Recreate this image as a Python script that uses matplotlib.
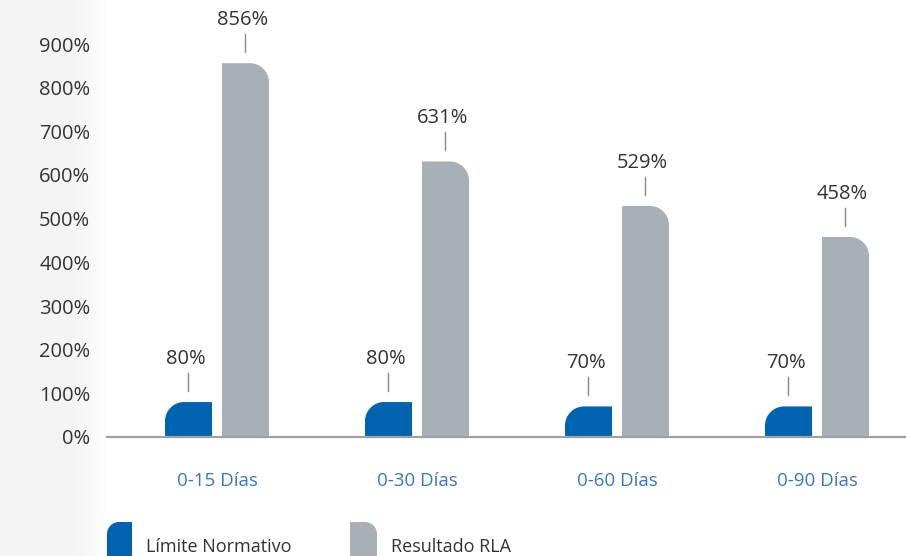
import numpy as np
import matplotlib
matplotlib.use("Agg")
import matplotlib.pyplot as plt
from matplotlib.path import Path
from matplotlib.patches import PathPatch

plt.rcParams['font.family'] = ['Open Sans', 'DejaVu Sans']

categories = ['0-15 Días', '0-30 Días', '0-60 Días', '0-90 Días']
limite = [80, 80, 70, 70]
resultado = [856, 631, 529, 458]
y_ticks = [0, 100, 200, 300, 400, 500, 600, 700, 800, 900]
series_names = ['Límite Normativo', 'Resultado RLA']

BLUE = '#0063AF'
GRAY = '#A9B0B5'
TXT = '#333333'
CAT = '#3A78BE'

W, H = 908, 556
fig = plt.figure(figsize=(W / 100, H / 100), dpi=100)

# light gray band on the left edge
bg = fig.add_axes([0, 0, 1, 1], zorder=-5)
grad = np.ones((2, 200, 3))
fade = np.clip((np.linspace(0, 200, 200) - 70) / 40, 0, 1)
shade = 0.958 + 0.042 * fade
for c in range(3):
    grad[:, :, c] = shade
bg.imshow(grad, extent=[0, 200, 0, H], aspect='auto')
bg.set_xlim(0, W)
bg.set_ylim(0, H)
bg.axis('off')

K = 0.5523


def one_round_bar(x0, y0, w, h, rx, ry, corner):
    # bar with a single rounded top corner; h may be negative (inverted axes)
    ry = min(ry, abs(h)) * np.sign(h)
    top = y0 + h
    if corner == 'left':
        verts = [(x0, y0), (x0 + w, y0), (x0 + w, top), (x0 + rx, top),
                 (x0 + rx - K * rx, top), (x0, top - ry + K * ry), (x0, top - ry),
                 (x0, y0), (x0, y0)]
        codes = [Path.MOVETO, Path.LINETO, Path.LINETO, Path.LINETO,
                 Path.CURVE4, Path.CURVE4, Path.CURVE4, Path.LINETO, Path.CLOSEPOLY]
    else:
        verts = [(x0, y0), (x0 + w, y0), (x0 + w, top - ry),
                 (x0 + w, top - ry + K * ry), (x0 + w - rx + K * rx, top), (x0 + w - rx, top),
                 (x0, top), (x0, y0), (x0, y0)]
        codes = [Path.MOVETO, Path.LINETO, Path.LINETO,
                 Path.CURVE4, Path.CURVE4, Path.CURVE4, Path.LINETO, Path.LINETO, Path.CLOSEPOLY]
    return Path(verts, codes)


left_px, right_px, bot_px, top_px = 107, 905, 437, 44
ax = fig.add_axes([left_px / W, (H - bot_px) / H, (right_px - left_px) / W, (bot_px - top_px) / H])
ax.set_xlim(-0.55, 3.44)
ax.set_ylim(0, 900)

px_x = (right_px - left_px) / 3.99
px_y = (bot_px - top_px) / 900.0
bw = 47 / px_x
off = 0.1425
r = 19

x = np.arange(len(categories))
for i in range(len(categories)):
    for val, sign, col, corner in [(limite[i], -1, BLUE, 'left'), (resultado[i], 1, GRAY, 'right')]:
        cx = x[i] + sign * off
        p = one_round_bar(cx - bw / 2, 0, bw, val, r / px_x, r / px_y, corner)
        ax.add_patch(PathPatch(p, facecolor=col, edgecolor='none', zorder=2))
        ax.plot([cx, cx], [val + 11 / px_y, val + 29 / px_y], color='#8A8A8A', lw=1, clip_on=False)
        ax.text(cx - 0.015, val + 43 / px_y, f'{val}%', ha='center', va='center',
                fontsize=14.5, color=TXT, clip_on=False)

for s in ['top', 'right', 'left']:
    ax.spines[s].set_visible(False)
ax.spines['bottom'].set_color('#A0A0A0')
ax.spines['bottom'].set_linewidth(1.6)
ax.set_yticks(y_ticks)
ax.set_yticklabels([f'{t}%' for t in y_ticks], fontsize=14.5, color=TXT)
ax.set_xticks(x)
ax.set_xticklabels(categories, fontsize=13.5, color=CAT)
ax.tick_params(axis='y', length=0, pad=12)
ax.tick_params(axis='x', length=0, pad=25)
ax.patch.set_alpha(0)

# legend drawn in pixel space
lg = fig.add_axes([0, 0, 1, 1], zorder=5)
lg.set_xlim(0, W)
lg.set_ylim(H, 0)
lg.axis('off')
lg.patch.set_alpha(0)
legend_items = [(107, 25, BLUE, 'left', 146), (350, 27, GRAY, 'right', 391)]
for (lx, lw_, col, corner, tx), name in zip(legend_items, series_names):
    p = one_round_bar(lx, H + 5, lw_, 522 - (H + 5), 12, 12, corner)
    lg.add_patch(PathPatch(p, facecolor=col, edgecolor='none', clip_on=False))
    lg.text(tx, 547, name, ha='left', va='center', fontsize=13, color=TXT)

fig.savefig('out.png', dpi=100)
